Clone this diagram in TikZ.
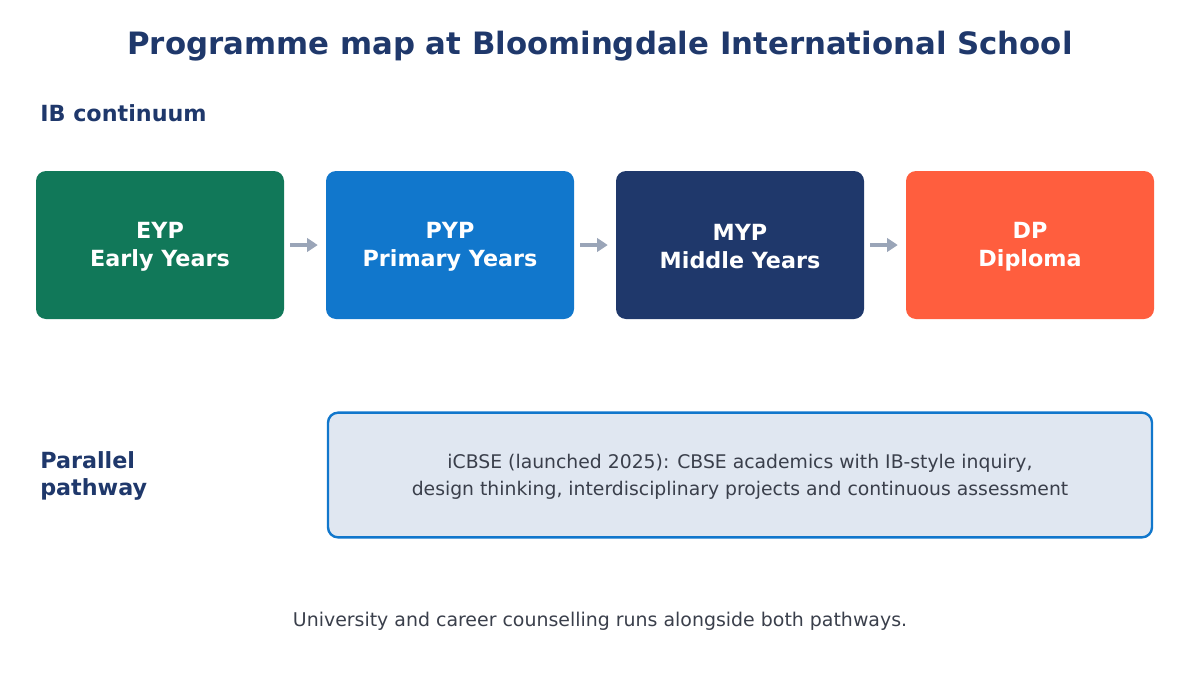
\documentclass[tikz,border=0pt]{standalone}
\usepackage{fontspec}
\setmainfont{DejaVu Sans}
\usetikzlibrary{arrows.meta}

\definecolor{navy}{HTML}{1F386B}
\definecolor{eypgreen}{HTML}{117859}
\definecolor{pypblue}{HTML}{1177CC}
\definecolor{dporange}{HTML}{FF5E3E}
\definecolor{arrowgray}{HTML}{9AA5B8}
\definecolor{textgray}{HTML}{3A3F4B}
\definecolor{paleblue}{HTML}{E0E7F1}

\tikzset{
  stage/.style={rounded corners=7.5pt, minimum width=186pt, minimum height=111pt},
  stagetext/.style={align=center, text=white, yshift=-1.2pt,
    font=\fontsize{16.7}{21}\selectfont\bfseries},
  pathtext/.style={align=center, text=textgray, yshift=-1.5pt,
    font=\fontsize{14.1}{20}\selectfont},
  flow/.style={arrowgray, line width=2.3pt, -{Triangle[length=8pt,width=10pt]},
    shorten <=4.5pt, shorten >=6pt},
  heading/.style={navy, anchor=west, align=left, inner sep=0pt,
    font=\fontsize{16.7}{20}\selectfont\bfseries}
}

\begin{document}
\begin{tikzpicture}[x=0.75pt, y=-0.75pt]

\useasboundingbox (0,0) rectangle (1200,675);

\node [navy, font=\fontsize{23.1}{28}\selectfont\bfseries] (title) at (600,46) {Programme map at Bloomingdale International School};

\node [heading] (ib) at (40,113) {IB continuum};

% the four IB programmes
\node [stage, fill=eypgreen, label={[stagetext]center:EYP\\Early Years}] (eyp) at (160,245) {};
\node [stage, fill=pypblue, label={[stagetext]center:PYP\\Primary Years}] (pyp) at (450,245) {};
\node [stage, fill=navy, label={[stagetext]center:MYP\\Middle Years}] (myp) at (740,245) {};
\node [stage, fill=dporange, label={[stagetext]center:DP\\Diploma}] (dp) at (1030,245) {};

\draw [flow] (eyp) -- (pyp);
\draw [flow] (pyp) -- (myp);
\draw [flow] (myp) -- (dp);

% parallel pathway
\node [heading] (parallel) at (40,476) {Parallel\\pathway};
\node [draw=pypblue, line width=1.8pt, fill=paleblue, rounded corners=7.5pt,
  minimum width=618pt, minimum height=93.5pt,
  label={[pathtext]center:iCBSE (launched 2025): CBSE academics with IB-style inquiry,\\design thinking, interdisciplinary projects and continuous assessment}]
  (icbse) at (740,475) {};

\node [text=textgray, font=\fontsize{14.2}{16}\selectfont] (note) at (600,621) {University and career counselling runs alongside both pathways.};

\end{tikzpicture}
\end{document}
